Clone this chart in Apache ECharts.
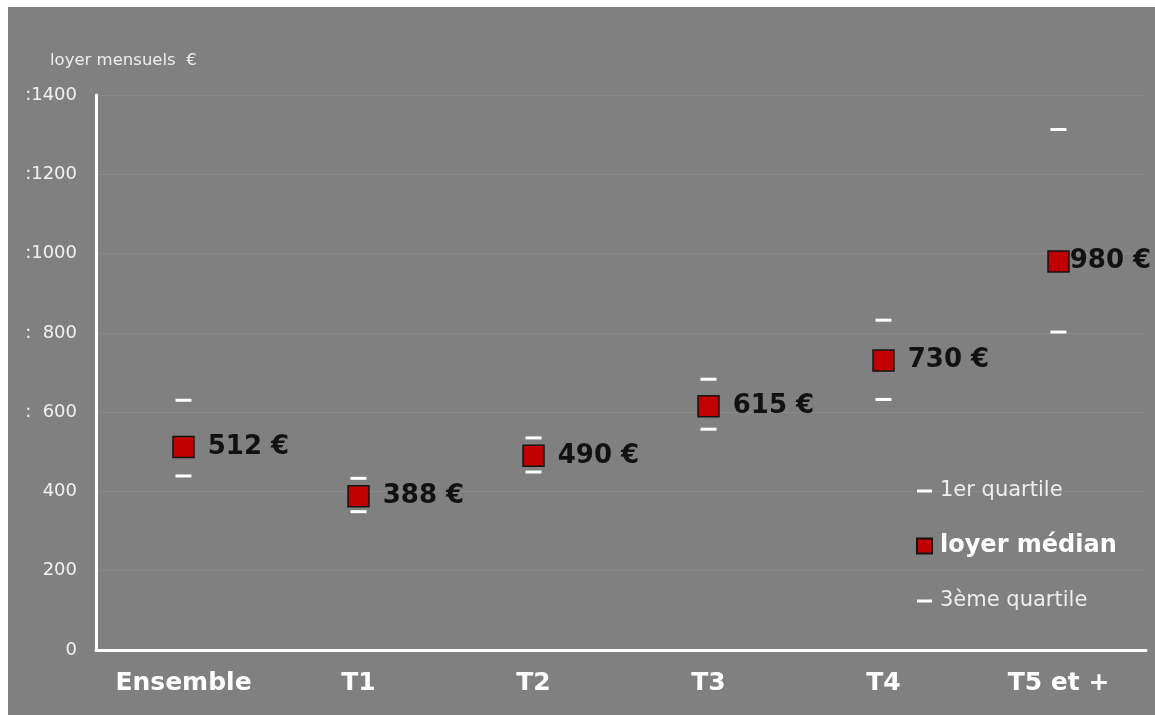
<!DOCTYPE html>
<html>
<head>
<meta charset="utf-8">
<script src="https://cdn.jsdelivr.net/npm/echarts@6/dist/echarts.min.js"></script>
<style>
html,body{margin:0;padding:0;background:#ffffff;}
#wrap{position:absolute;left:8px;top:7px;width:1147px;height:708px;background:#808080;}
#chart{width:1147px;height:708px;}
</style>
</head>
<body>
<div id="wrap"><div id="chart"></div></div>
<script>
const categories = ['Ensemble', 'T1', 'T2', 'T3', 'T4', 'T5 et +'];
const median = [512, 388, 490, 615, 730, 980];
const q1 = [439, 349, 449, 557, 632, 802];
const q3 = [630, 433, 535, 683, 832, 1313];
const yTickLabels = {0: '0', 200: '200', 400: '400', 600: ':  600', 800: ':  800', 1000: ':1000', 1200: ':1200', 1400: ':1400'};
const axisTitle = 'loyer mensuels  \u20ac';

const chart = echarts.init(document.getElementById('chart'), null, {renderer: 'canvas'});
const FONT = '"DejaVu Sans", Verdana, sans-serif';

const medianData = median.map((v, i) => {
  const d = {value: v};
  if (i === categories.length - 1) d.label = {distance: 0};
  return d;
});

chart.setOption({
  backgroundColor: '#808080',
  animation: false,
  title: {
    text: axisTitle,
    left: 37, top: 40,
    textStyle: {color: '#eeeeee', fontSize: 16.5, fontWeight: 'normal', fontFamily: FONT}
  },
  grid: {left: 88, right: 9, top: 88, bottom: 65, containLabel: false},
  legend: {
    orient: 'vertical',
    left: 903, top: 467,
    itemWidth: 15, itemHeight: 15,
    itemGap: 31,
    symbolKeepAspect: true,
    data: [
      {name: '1er quartile', icon: 'path://M0,0H10V2H0Z', itemStyle: {opacity: 1}, textStyle: {color: '#eeeeee', fontSize: 21, fontWeight: 'normal', fontFamily: FONT, lineHeight: 24, padding: [0, 0, 0, 3]}},
      {name: 'loyer m\u00e9dian', icon: 'rect', itemStyle: {opacity: 1}, textStyle: {color: '#ffffff', fontSize: 24, fontWeight: 'bold', fontFamily: FONT, lineHeight: 24, padding: [0, 0, 0, 3]}},
      {name: '3\u00e8me quartile', icon: 'path://M0,0H10V2H0Z', itemStyle: {opacity: 1}, textStyle: {color: '#eeeeee', fontSize: 21, fontWeight: 'normal', fontFamily: FONT, lineHeight: 24, padding: [0, 0, 0, 3]}}
    ]
  },
  xAxis: {
    type: 'category',
    data: categories,
    boundaryGap: true,
    axisLine: {lineStyle: {color: '#ffffff', width: 3}},
    axisTick: {show: false},
    splitLine: {show: false},
    axisLabel: {interval: 0, color: '#ffffff', fontSize: 25, fontWeight: 'bold', fontFamily: FONT, margin: 21}
  },
  yAxis: {
    type: 'value',
    min: 0, max: 1400, interval: 200,
    axisLine: {show: true, lineStyle: {color: '#ffffff', width: 3}},
    axisTick: {show: false},
    splitLine: {show: true, lineStyle: {color: 'rgba(255,255,255,0.07)', width: 1}},
    axisLabel: {
      color: '#f2f2f2', fontSize: 18, fontFamily: FONT, margin: 19,
      formatter: v => yTickLabels[v] !== undefined ? yTickLabels[v] : String(v)
    }
  },
  series: [
    {
      name: '1er quartile', type: 'scatter',
      data: q1,
      symbol: 'rect', symbolSize: [16, 3],
      itemStyle: {color: '#ffffff', opacity: 1},
      z: 3
    },
    {
      name: '3\u00e8me quartile', type: 'scatter',
      data: q3,
      symbol: 'rect', symbolSize: [16, 3],
      itemStyle: {color: '#ffffff', opacity: 1},
      z: 3
    },
    {
      name: 'loyer m\u00e9dian', type: 'scatter',
      data: medianData,
      symbol: 'rect', symbolSize: 21,
      itemStyle: {color: '#c00000', borderColor: '#141414', borderWidth: 1.5, opacity: 1},
      label: {
        show: true, position: 'right', distance: 13,
        color: '#111111', fontSize: 26, fontWeight: 'bold', fontFamily: FONT,
        formatter: p => p.value + ' \u20ac'
      },
      z: 4
    }
  ]
});
</script>
</body>
</html>
